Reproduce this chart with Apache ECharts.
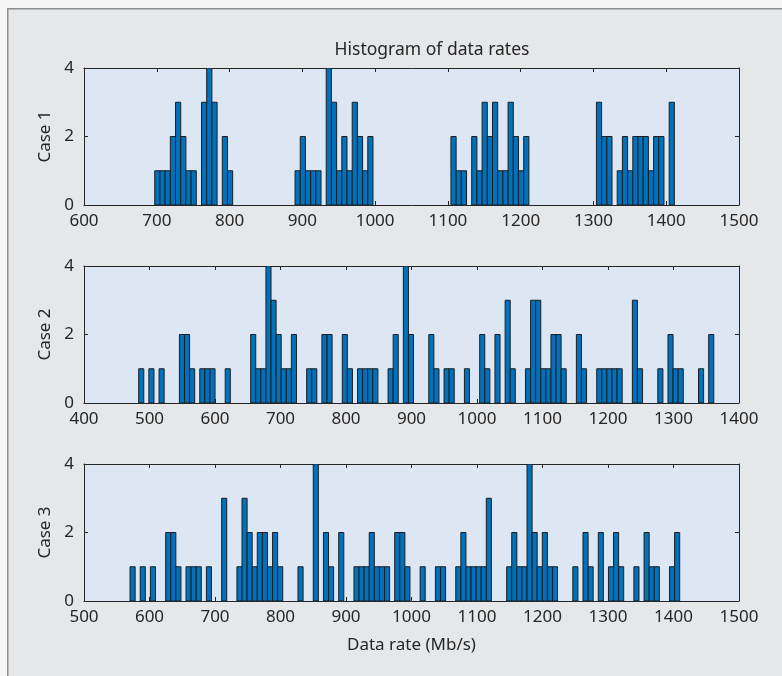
<!DOCTYPE html>
<html>
<head>
<meta charset="utf-8">
<script src="https://cdn.jsdelivr.net/npm/echarts/dist/echarts.min.js"></script>
<style>
  html, body { margin: 0; padding: 0; background: #f5f5f6; }
  #chart { width: 782px; height: 676px; }
</style>
</head>
<body>
<div id="chart"></div>
<script>
// Histogram of data rates, three cases. Each case is binned on a regular grid:
// bin k spans [binStart + k*binWidth, binStart + (k+1)*binWidth].
const caseNames = ['Case 1', 'Case 2', 'Case 3'];
const axisMin = [600, 400, 500];
const axisMax = [1500, 1400, 1500];
const yTicks = [0, 2, 4];
const binStart = [697.2, 483.5, 570.3];
const binWidth = [7.14, 7.77, 7.77];

// Non-empty bins (index) and their counts
const case1Bins = [0, 1, 2, 3, 4, 5, 6, 7, 9, 10, 11, 13, 14, 27, 28, 29, 30, 31,
  33, 34, 35, 36, 37, 38, 39, 40, 41, 57, 58, 59, 61, 62, 63, 64, 65, 66, 67, 68,
  69, 70, 71, 85, 86, 87, 89, 90, 91, 92, 93, 94, 95, 96, 97, 99];
const case1Counts = [1, 1, 1, 2, 3, 2, 1, 1, 3, 4, 3, 2, 1, 1, 2, 1, 1, 1,
  4, 3, 1, 2, 1, 3, 2, 1, 2, 2, 1, 1, 2, 1, 3, 2, 3, 1, 1, 3,
  2, 1, 2, 3, 2, 2, 1, 2, 1, 2, 2, 2, 1, 2, 2, 3];

const case2Bins = [0, 2, 4, 8, 9, 10, 12, 13, 14, 17, 22, 23, 24, 25, 26, 27, 28,
  29, 30, 33, 34, 36, 37, 40, 41, 43, 44, 45, 46, 49, 50, 52, 53, 57, 58, 60, 61,
  64, 67, 68, 70, 72, 73, 76, 77, 78, 79, 80, 81, 82, 83, 86, 87, 90, 91, 92, 93,
  94, 97, 98, 102, 104, 105, 106, 110, 112];
const case2Counts = [1, 1, 1, 2, 2, 1, 1, 1, 1, 1, 2, 1, 1, 4, 3, 2, 1,
  1, 2, 1, 1, 2, 2, 2, 1, 1, 1, 1, 1, 1, 2, 4, 2, 2, 1, 1, 1,
  1, 2, 1, 2, 3, 1, 1, 3, 3, 1, 1, 2, 2, 1, 2, 1, 1, 1, 1, 1,
  1, 3, 1, 1, 2, 1, 1, 1, 2];

const case3Bins = [0, 2, 4, 7, 8, 9, 11, 12, 13, 15, 18, 21, 22, 23, 24, 25, 26,
  27, 28, 29, 33, 36, 38, 39, 41, 44, 45, 46, 47, 48, 49, 50, 52, 53, 54, 57, 60,
  61, 64, 65, 66, 67, 68, 69, 70, 74, 75, 76, 77, 78, 79, 80, 81, 82, 83, 87, 89,
  90, 92, 94, 95, 96, 99, 101, 102, 103, 106, 107];
const case3Counts = [1, 1, 1, 2, 2, 1, 1, 1, 1, 1, 3, 1, 3, 2, 1, 2, 2,
  1, 2, 1, 1, 4, 2, 1, 2, 1, 1, 1, 2, 1, 1, 1, 2, 2, 1, 1, 1,
  1, 1, 2, 1, 1, 1, 1, 3, 1, 2, 1, 1, 4, 2, 1, 2, 1, 1, 1, 2,
  1, 2, 1, 2, 1, 1, 2, 1, 1, 1, 2];

const allBins = [case1Bins, case2Bins, case3Bins];
const allCounts = [case1Counts, case2Counts, case3Counts];

const FONT = 'Noto Sans';
const TEXT = '#262626';
const LINE = '#262626';
const gridTop = [68, 266, 464];

function binData(i) {
  return allBins[i].map((k, j) => [
    binStart[i] + k * binWidth[i],
    binStart[i] + (k + 1) * binWidth[i],
    allCounts[i][j]
  ]);
}

function renderBin(params, api) {
  const p0 = api.coord([api.value(0), api.value(2)]);
  const p1 = api.coord([api.value(1), 0]);
  return {
    type: 'rect',
    shape: { x: p0[0], y: p0[1], width: p1[0] - p0[0], height: p1[1] - p0[1] },
    style: { fill: '#0072bd', stroke: '#1e1e1e', lineWidth: 1 }
  };
}

const plainNumber = v => String(v);

const grids = [], xAxes = [], yAxes = [], series = [];
for (let i = 0; i < 3; i++) {
  grids.push({
    left: 84, width: 655, top: gridTop[i], height: 137,
    show: true, backgroundColor: '#dde7f4', borderWidth: 0
  });
  const common = {
    gridIndex: i,
    axisLine: { show: true, onZero: false, lineStyle: { color: LINE, width: 1 } },
    axisTick: { show: true, inside: true, length: 4, lineStyle: { color: LINE, width: 1 } },
    splitLine: { show: false }
  };
  // bottom and top x axes
  xAxes.push(Object.assign({}, common, {
    type: 'value', position: 'bottom', min: axisMin[i], max: axisMax[i], interval: 100,
    axisLabel: { show: true, margin: 8, color: TEXT, fontFamily: FONT, fontSize: 17, formatter: plainNumber },
    name: i === 2 ? 'Data rate (Mb/s)' : '',
    nameLocation: 'middle', nameGap: 36,
    nameTextStyle: { color: TEXT, fontFamily: FONT, fontSize: 17 }
  }));
  xAxes.push(Object.assign({}, common, {
    type: 'value', position: 'top', min: axisMin[i], max: axisMax[i], interval: 100,
    axisLabel: { show: false }
  }));
  // left and right y axes
  yAxes.push(Object.assign({}, common, {
    type: 'value', position: 'left', min: yTicks[0], max: yTicks[yTicks.length - 1], interval: 2,
    axisLabel: { show: true, margin: 10, color: TEXT, fontFamily: FONT, fontSize: 17, formatter: plainNumber },
    name: caseNames[i], nameLocation: 'middle', nameGap: 30,
    nameTextStyle: { color: TEXT, fontFamily: FONT, fontSize: 17 }
  }));
  yAxes.push(Object.assign({}, common, {
    type: 'value', position: 'right', min: yTicks[0], max: yTicks[yTicks.length - 1], interval: 2,
    axisLabel: { show: false }
  }));
  series.push({
    type: 'custom',
    name: caseNames[i],
    xAxisIndex: 2 * i,
    yAxisIndex: 2 * i,
    renderItem: renderBin,
    encode: { x: [0, 1], y: 2 },
    data: binData(i),
    clip: true
  });
}

const chart = echarts.init(document.getElementById('chart'), null, { renderer: 'canvas' });
chart.setOption({
  backgroundColor: 'transparent',
  animation: false,
  title: {
    text: 'Histogram of data rates',
    left: 427, top: 36, textAlign: 'center',
    textStyle: { color: TEXT, fontFamily: FONT, fontSize: 17.5, fontWeight: 'normal' }
  },
  graphic: [{
    type: 'rect', left: 7, top: 8, z: -100, silent: true,
    shape: { width: 800, height: 700 },
    style: { fill: '#e6e7e9', stroke: '#8e8e8e', lineWidth: 1.5 }
  }],
  grid: grids,
  xAxis: xAxes,
  yAxis: yAxes,
  series: series
});
</script>
</body>
</html>
